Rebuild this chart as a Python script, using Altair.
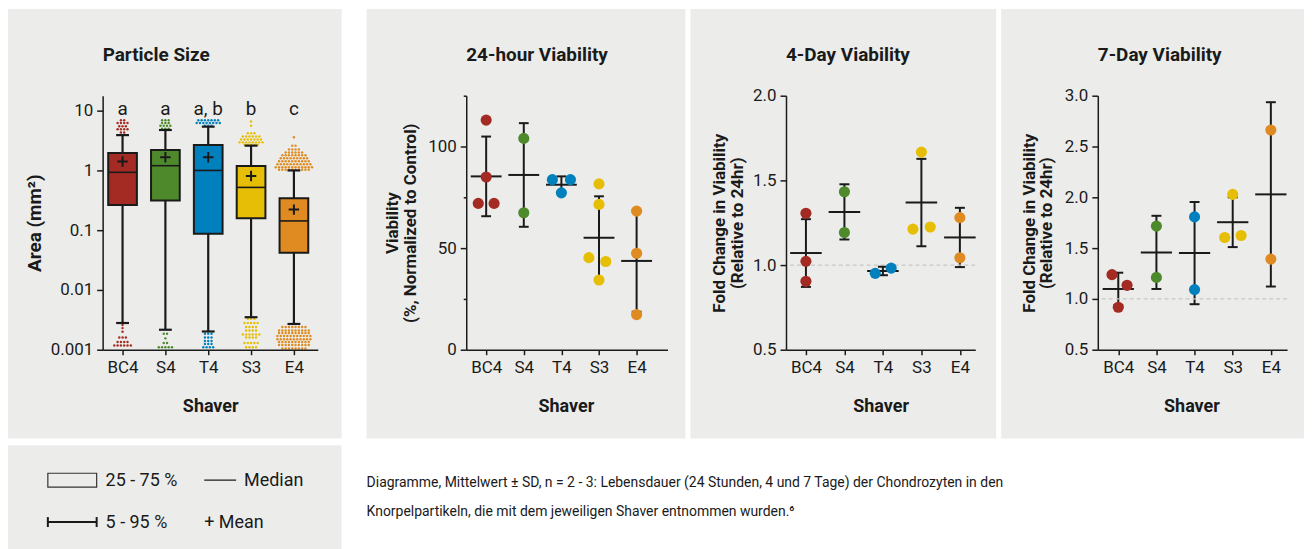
import altair as alt
import pandas as pd

# ---------------- data ----------------
groups = ["BC4", "S4", "T4", "S3", "E4"]
colors = ["#A42B23", "#4E8A2C", "#0081BE", "#E6BE05", "#E08B21"]

# Particle size box plots (mm^2)
box_q1 = [0.265, 0.313, 0.087, 0.158, 0.042]
box_q3 = [1.96, 2.2, 2.67, 1.19, 0.343]
box_median = [0.93, 1.2, 1.0, 0.52, 0.143]
box_mean = [1.41, 1.66, 1.66, 0.81, 0.221]
whisker_lo = [0.0028, 0.00216, 0.00202, 0.0035, 0.0027]
whisker_hi = [3.9, 4.75, 5.4, 2.6, 1.0]
letters = ["a", "a", "a, b", "b", "c"]

# outlier rows (group, value, number of dots in the row)
out_group = (["BC4"] * 5 + ["S4"] * 4 + ["T4"] * 3 + ["S3"] * 7 + ["E4"] * 10
             + ["BC4"] * 6 + ["S4"] * 4 + ["T4"] * 5 + ["S3"] * 8 + ["E4"] * 8)
out_value = ([6.9, 6.2, 5.5, 4.9, 4.3]
             + [6.9, 6.2, 5.6, 5.0]
             + [6.9, 6.2, 5.6]
             + [6.6, 5.6, 4.2, 3.7, 3.3, 2.95, 2.7]
             + [3.6, 2.6, 2.25, 2.0, 1.8, 1.6, 1.42, 1.27, 1.13, 1.03]
             + [0.0026, 0.0023, 0.0020, 0.0016, 0.00135, 0.00118]
             + [0.00185, 0.00155, 0.0013, 0.0011]
             + [0.00185, 0.0016, 0.0014, 0.00125, 0.0011]
             + [0.0033, 0.0028, 0.0024, 0.0021, 0.0018, 0.0016, 0.0013, 0.0011]
             + [0.0024, 0.0021, 0.0019, 0.0017, 0.0015, 0.00135, 0.0012, 0.00105])
out_count = ([2, 4, 3, 4, 2]
             + [3, 3, 4, 3]
             + [7, 8, 3]
             + [1, 1, 3, 6, 7, 8, 5]
             + [1, 2, 4, 6, 8, 9, 10, 11, 12, 10]
             + [1, 1, 1, 3, 4, 6]
             + [2, 1, 2, 5]
             + [3, 3, 3, 3, 4]
             + [3, 5, 4, 4, 6, 4, 5, 4]
             + [8, 10, 10, 11, 11, 10, 10, 8])

# 24-hour viability (%)
v24_group = ["BC4", "BC4", "BC4", "BC4", "S4", "S4", "T4", "T4", "T4",
             "S3", "S3", "S3", "S3", "S3", "E4", "E4", "E4"]
v24_value = [113, 85, 72, 72, 104, 67.4, 83.7, 83.7, 77.2,
             81.6, 71.5, 45.3, 43.4, 34.3, 68.2, 47.5, 17.3]
v24_jitter = [0, 0, -0.21, 0.21, 0, 0, -0.24, 0.24, 0,
              0, 0, -0.27, 0.18, 0, 0, 0, 0]
v24_mean = [85.3, 86.0, 81.2, 55.1, 43.7]
v24_sd = [19.6, 25.5, 4.1, 20.4, 25.0]

# 4-day fold change
v4_group = ["BC4", "BC4", "BC4", "S4", "S4", "T4", "T4", "S3", "S3", "S3", "E4", "E4"]
v4_value = [1.306, 1.022, 0.904, 1.433, 1.192, 0.951, 0.982, 1.667, 1.212, 1.225, 1.28, 1.043]
v4_jitter = [0, 0, 0, 0, 0, -0.2, 0.215, 0, -0.22, 0.23, 0, 0]
v4_mean = [1.071, 1.314, 0.965, 1.369, 1.163]
v4_sd = [0.2, 0.163, 0.025, 0.258, 0.175]

# 7-day fold change
v7_group = ["BC4", "BC4", "BC4", "S4", "S4", "T4", "T4", "S3", "S3", "S3", "E4", "E4"]
v7_value = [1.239, 1.134, 0.918, 1.716, 1.212, 1.807, 1.092, 2.029, 1.605, 1.624, 2.663, 1.392]
v7_jitter = [-0.165, 0.23, 0, 0, 0, 0, 0, 0, -0.21, 0.22, 0, 0]
v7_mean = [1.098, 1.458, 1.451, 1.755, 2.029]
v7_sd = [0.16, 0.36, 0.503, 0.245, 0.907]

caption_lines = [
    "Diagramme, Mittelwert \u00b1 SD, n = 2 - 3: Lebensdauer (24 Stunden, 4 und 7 Tage) der Chondrozyten in den",
    "Knorpelpartikeln, die mit dem jeweiligen Shaver entnommen wurden.\u2076",
]

# ---------------- style ----------------
FONT = "Roboto"
BG = "#ECEDEB"
INK = "#1A1A1A"
H = 255
label_expr = "[" + ",".join("'%s'" % g for g in groups) + "][datum.value]"
color_enc = alt.Color("group:N", scale=alt.Scale(domain=groups, range=colors), legend=None)


def one_row():
    return pd.DataFrame({"k": [0]})


def bg_rect(x1, x2, y1, y2):
    return alt.Chart(one_row()).mark_rect(color=BG).encode(
        x=alt.value(x1), x2=alt.value(x2), y=alt.value(y1), y2=alt.value(y2))


def title_text(text):
    return alt.Chart(one_row()).mark_text(
        text=text, align="left", baseline="middle", font=FONT, fontSize=19,
        fontWeight="bold", color=INK).encode(x=alt.value(0), y=alt.value(-41))


def x_axis(title_x):
    return alt.Axis(values=[0, 1, 2, 3, 4], labelExpr=label_expr, title="Shaver",
                    titleX=title_x, titleY=57, titleAlign="center", titleBaseline="middle",
                    titleFont=FONT, titleFontSize=18, titleFontWeight="bold", titleColor=INK,
                    labelFont=FONT, labelFontSize=17, labelColor=INK, labelPadding=5,
                    labelAngle=0, labelFlush=False, labelOverlap=False,
                    tickSize=5, tickColor=INK, tickWidth=1.5,
                    domainColor=INK, domainWidth=1.5, grid=False, zindex=1)


def y_axis(title, title_x, values, fmt=None, lexpr=None, tick_size=6, title_size=17):
    kw = dict(values=values, title=title, titleX=title_x, titleY=H / 2, titleAngle=270,
              titleAlign="center", titleBaseline="middle", titleLineHeight=18,
              titleFont=FONT, titleFontSize=title_size, titleFontWeight="bold", titleColor=INK,
              labelFont=FONT, labelFontSize=17, labelColor=INK, labelPadding=4,
              labelFlush=False, labelOverlap=False, tickSize=tick_size, tickColor=INK,
              tickWidth=1.5, domainColor=INK, domainWidth=1.5, grid=False, zindex=1)
    if fmt:
        kw["format"] = fmt
    if lexpr:
        kw["labelExpr"] = lexpr
    return alt.Axis(**kw)


# ---------------- panel 1: particle size ----------------
BOX_HALF = 0.335
CAP1 = 0.15
SWARM = 0.077

box_df = pd.DataFrame({
    "group": groups, "pos": list(range(5)), "q1": box_q1, "q3": box_q3,
    "med": box_median, "mean": box_mean, "wlo": whisker_lo, "whi": whisker_hi,
    "letter": letters})
box_df["xl"] = box_df["pos"] - BOX_HALF
box_df["xr"] = box_df["pos"] + BOX_HALF
box_df["cl"] = box_df["pos"] - CAP1
box_df["cr"] = box_df["pos"] + CAP1

rows = []
for g, v, c in zip(out_group, out_value, out_count):
    gi = groups.index(g)
    for k in range(c):
        rows.append({"group": g, "pos": gi + (k - (c - 1) / 2) * SWARM, "value": v})
out_df = pd.DataFrame(rows)

W1 = 216
xs1 = alt.Scale(domain=[-0.465, 4.558], nice=False, zero=False)
ys1 = alt.Scale(type="log", domain=[0.001, 17.8], nice=False)


def X1(f):
    return alt.X(f, scale=xs1)


def Y1(f):
    return alt.Y(f, scale=ys1)


p1_dots = alt.Chart(out_df).mark_circle(size=6, opacity=1).encode(
    x=alt.X("pos:Q", scale=xs1, axis=x_axis(108)),
    y=alt.Y("value:Q", scale=ys1,
            axis=y_axis("Area (mm\u00b2)", -68, [0.001, 0.01, 0.1, 1, 10], fmt="~g",
                        title_size=19)),
    color=color_enc)
base1 = alt.Chart(box_df)
p1_wlo = base1.mark_rule(color=INK, strokeWidth=2.2).encode(
    x=X1("pos:Q"), y=Y1("wlo:Q"), y2="q1:Q")
p1_whi = base1.mark_rule(color=INK, strokeWidth=2.2).encode(
    x=X1("pos:Q"), y=Y1("q3:Q"), y2="whi:Q")
p1_caplo = base1.mark_rule(color=INK, strokeWidth=2.2).encode(
    x=X1("cl:Q"), x2="cr:Q", y=Y1("wlo:Q"))
p1_caphi = base1.mark_rule(color=INK, strokeWidth=2.2).encode(
    x=X1("cl:Q"), x2="cr:Q", y=Y1("whi:Q"))
p1_box = base1.mark_rect(stroke=INK, strokeWidth=2, opacity=1).encode(
    x=X1("xl:Q"), x2="xr:Q", y=Y1("q1:Q"), y2="q3:Q", color=color_enc)
p1_med = base1.mark_rule(color=INK, strokeWidth=1.6).encode(
    x=X1("xl:Q"), x2="xr:Q", y=Y1("med:Q"))
p1_mean = base1.mark_point(shape="M-1,0L1,0M0,-1L0,1", size=110, filled=False,
                           color=INK, strokeWidth=2, opacity=1).encode(
    x=X1("pos:Q"), y=Y1("mean:Q"))
p1_letters = base1.mark_text(font=FONT, fontSize=19, baseline="alphabetic", color=INK).encode(
    x=X1("pos:Q"), y=alt.value(19), text="letter:N")

panel1 = alt.layer(
    bg_rect(-95, 240, -87, 344), title_text("Particle Size"),
    p1_dots, p1_wlo, p1_whi, p1_caplo, p1_caphi, p1_box, p1_med, p1_mean, p1_letters
).properties(width=W1, height=H)


# ---------------- panels 2-4: viability ----------------
def viability_panel(title, d_group, d_value, d_jitter, mean, sd, x_dom, width, rect,
                    y_dom, y_title, y_title_x, y_vals, shaver_x, fmt=None, lexpr=None,
                    tick_size=6, dashed=False):
    xs = alt.Scale(domain=x_dom, nice=False, zero=False)
    ys = alt.Scale(domain=y_dom, nice=False, zero=False)
    dots = pd.DataFrame({"group": d_group, "value": d_value, "jit": d_jitter})
    dots["pos"] = [groups.index(g) for g in d_group] + dots["jit"]
    st = pd.DataFrame({"group": groups, "pos": list(range(5)), "mean": mean, "sd": sd})
    st["lo"] = st["mean"] - st["sd"]
    st["hi"] = st["mean"] + st["sd"]
    st["cl"] = st["pos"] - 0.13
    st["cr"] = st["pos"] + 0.13
    st["ml"] = st["pos"] - 0.41
    st["mr"] = st["pos"] + 0.41

    layers = [bg_rect(*rect), title_text(title)]
    axis_layer = alt.Chart(st).mark_rule(color=INK, strokeWidth=2).encode(
        x=alt.X("pos:Q", scale=xs, axis=x_axis(shaver_x)),
        y=alt.Y("lo:Q", scale=ys, axis=y_axis(y_title, y_title_x, y_vals, fmt=fmt,
                                              lexpr=lexpr, tick_size=tick_size)),
        y2="hi:Q")
    layers.append(axis_layer)
    if dashed:
        layers.append(alt.Chart(one_row()).mark_rule(color="#C8C8C8", strokeWidth=1.2,
                                                     strokeDash=[4, 3]).encode(
            y=alt.Y(datum=1.0, scale=ys)))
    base = alt.Chart(st)
    layers.append(base.mark_rule(color=INK, strokeWidth=2).encode(
        x=alt.X("cl:Q", scale=xs), x2="cr:Q", y=alt.Y("lo:Q", scale=ys)))
    layers.append(base.mark_rule(color=INK, strokeWidth=2).encode(
        x=alt.X("cl:Q", scale=xs), x2="cr:Q", y=alt.Y("hi:Q", scale=ys)))
    layers.append(base.mark_rule(color=INK, strokeWidth=2).encode(
        x=alt.X("ml:Q", scale=xs), x2="mr:Q", y=alt.Y("mean:Q", scale=ys)))
    layers.append(alt.Chart(dots).mark_circle(size=125, opacity=1).encode(
        x=alt.X("pos:Q", scale=xs), y=alt.Y("value:Q", scale=ys),
        color=color_enc))
    return alt.layer(*layers).properties(width=width, height=H)


panel2 = viability_panel(
    "24-hour Viability", v24_group, v24_value, v24_jitter, v24_mean, v24_sd,
    [-0.53, 4.82], 202, (-100, 220, -87, 344), [0, 125],
    ["Viability", "(%, Normalized to Control)"], -74, [0, 25, 50, 75, 100, 125], 100,
    lexpr="datum.value % 50 === 0 ? datum.label : ''",
    tick_size={"condition": {"test": "datum.value % 50 === 0", "value": 6}, "value": 3})

panel3 = viability_panel(
    "4-Day Viability", v4_group, v4_value, v4_jitter, v4_mean, v4_sd,
    [-0.518, 4.40], 190, (-96, 211, -87, 344), [0.5, 2.0],
    ["Fold Change in Viability", "(Relative to 24hr)"], -67, [0.5, 1.0, 1.5, 2.0], 95,
    fmt=".1f", dashed=True)

panel4 = viability_panel(
    "7-Day Viability", v7_group, v7_value, v7_jitter, v7_mean, v7_sd,
    [-0.537, 4.425], 190, (-97, 207, -87, 344), [0.5, 3.0],
    ["Fold Change in Viability", "(Relative to 24hr)"], -69,
    [0.5, 1.0, 1.5, 2.0, 2.5, 3.0], 94, fmt=".1f", dashed=True)

# ---------------- bottom row: legend + caption ----------------
# origin of this row is aligned with the plot origin of the first panel (95 px in)
OX = -95


def txt(text, x, y, size=18):
    return alt.Chart(one_row()).mark_text(text=text, align="left", baseline="middle",
                                          font=FONT, fontSize=size, color=INK).encode(
        x=alt.value(OX + x), y=alt.value(y))


def seg(x1, x2, y1, y2, w=2):
    return alt.Chart(one_row()).mark_rule(color=INK, strokeWidth=w).encode(
        x=alt.value(OX + x1), x2=alt.value(OX + x2), y=alt.value(y1), y2=alt.value(y2))


legend_icon = alt.Chart(one_row()).mark_rect(fillOpacity=0, stroke="#333333", strokeWidth=1.2).encode(
    x=alt.value(OX + 40), x2=alt.value(OX + 89), y=alt.value(28), y2=alt.value(42))

bottom = alt.layer(
    bg_rect(OX, OX + 335, 0, 104),
    legend_icon,
    txt("25 - 75 %", 98, 36),
    seg(197, 229, 35, 35, 1.3),
    txt("Median", 237, 36),
    seg(40, 89, 77, 77, 2),
    seg(40, 40, 72, 82, 2),
    seg(89, 89, 72, 82, 2),
    txt("5 - 95 %", 98, 78),
    txt("+ Mean", 197, 78),
    txt(caption_lines[0], 360, 38, size=14),
    txt(caption_lines[1], 360, 67, size=14),
).properties(width=W1, height=104)

top_row = alt.hconcat(panel1, alt.hconcat(panel2, panel3, panel4, spacing=5), spacing=25)
chart = alt.vconcat(top_row, bottom, spacing=7).properties(
    padding=0, background="white"
).configure_view(strokeWidth=0)

chart.save("out.html", embed_options={"renderer": "svg", "actions": False})
